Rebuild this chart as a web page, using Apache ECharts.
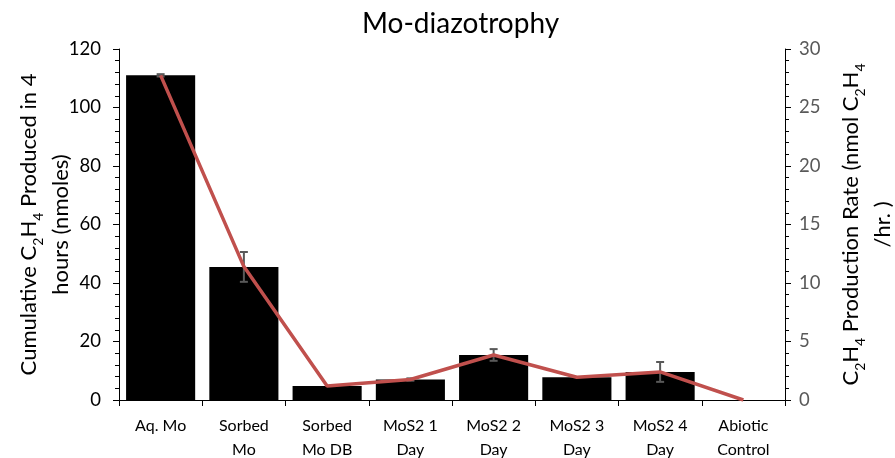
<!DOCTYPE html>
<html>
<head>
<meta charset="utf-8">
<script src="https://cdn.jsdelivr.net/npm/echarts@6/dist/echarts.min.js"></script>
<style>
  html, body { margin: 0; padding: 0; background: #fff; }
  #chart { width: 895px; height: 458px; }
</style>
</head>
<body>
<div id="chart"></div>
<script>
// Categories and measured values
const categories = ['Aq. Mo', 'Sorbed\nMo', 'Sorbed\nMo DB', 'MoS2 1\nDay', 'MoS2 2\nDay', 'MoS2 3\nDay', 'MoS2 4\nDay', 'Abiotic\nControl'];
const cumulativeNmoles = [111, 45.5, 4.8, 7.0, 15.4, 7.8, 9.6, 0];
const cumulativeError = [0.4, 5.1, 0, 0.4, 2.0, 0, 3.4, 0];
const productionRate = [27.75, 11.4, 1.2, 1.75, 3.85, 1.95, 2.4, 0];
const leftTicks = { min: 0, max: 120, interval: 20 };
const rightTicks = { min: 0, max: 30, interval: 5 };

const FONT = 'Lato, "Open Sans", sans-serif';

const errorData = cumulativeNmoles.map((v, i) => [i, v - cumulativeError[i], v + cumulativeError[i], cumulativeError[i]]);

const subRich = {
  m: { fontSize: 22, fontFamily: FONT, color: '#000', lineHeight: 32 },
  s: { fontSize: 14, fontFamily: FONT, color: '#000', lineHeight: 17, verticalAlign: 'bottom' }
};

const chart = echarts.init(document.getElementById('chart'), null, { renderer: 'canvas' });

chart.setOption({
  animation: false,
  backgroundColor: '#fff',
  title: {
    text: 'Mo-diazotrophy',
    left: 357,
    top: 5,
    textStyle: { fontFamily: FONT, fontSize: 28, fontWeight: 'normal', color: '#000' }
  },
  grid: { left: 119, right: 110, top: 49, bottom: 58, containLabel: false, outerBoundsMode: 'none' },
  xAxis: {
    type: 'category',
    data: categories,
    axisLine: { lineStyle: { color: '#000', width: 1 } },
    axisTick: { show: true, alignWithLabel: false, length: 6, lineStyle: { color: '#000' } },
    axisLabel: { fontFamily: FONT, fontSize: 16, color: '#000', lineHeight: 24, margin: 14, interval: 0 }
  },
  yAxis: [
    {
      type: 'value',
      min: leftTicks.min, max: leftTicks.max, interval: leftTicks.interval,
      position: 'left',
      axisLine: { show: true, lineStyle: { color: '#000', width: 1 } },
      axisTick: { show: true, length: 6, lineStyle: { color: '#000' } },
      minorTick: { show: true, splitNumber: 5, length: 4, lineStyle: { color: '#000' } },
      splitLine: { show: false },
      axisLabel: { fontFamily: FONT, fontSize: 18.5, color: '#000', margin: 18 },
      name: '{m|Cumulative C}{s|2}{m|H}{s|4}{m| Produced in 4}\n{m|hours (nmoles)}',
      nameLocation: 'middle',
      nameGap: 42,
      nameMoveOverlap: false,
      nameRotate: 90,
      nameTextStyle: { rich: subRich, align: 'center' }
    },
    {
      type: 'value',
      min: rightTicks.min, max: rightTicks.max, interval: rightTicks.interval,
      position: 'right',
      axisLine: { show: true, lineStyle: { color: '#000', width: 1 } },
      axisTick: { show: true, length: 6, lineStyle: { color: '#000' } },
      minorTick: { show: true, splitNumber: 5, length: 4, lineStyle: { color: '#000' } },
      splitLine: { show: false },
      axisLabel: { fontFamily: FONT, fontSize: 18.5, color: '#595959', margin: 14 },
      name: '{m|C}{s|2}{m|H}{s|4}{m| Production Rate (nmol C}{s|2}{m|H}{s|4}\n{m|/hr. )}',
      nameLocation: 'middle',
      nameGap: 50,
      nameMoveOverlap: false,
      nameRotate: 90,
      nameTextStyle: { rich: subRich, align: 'center' }
    }
  ],
  series: [
    {
      name: 'Cumulative',
      type: 'bar',
      data: cumulativeNmoles,
      yAxisIndex: 0,
      barCategoryGap: '17%',
      itemStyle: { color: '#000' },
      z: 2
    },
    {
      name: 'Error',
      type: 'custom',
      yAxisIndex: 0,
      data: errorData,
      z: 3,
      renderItem: function (params, api) {
        if (api.value(3) <= 0) return null;
        const x = api.coord([api.value(0), 0])[0];
        const lo = api.coord([api.value(0), api.value(1)])[1];
        const hi = api.coord([api.value(0), api.value(2)])[1];
        const half = 4;
        const style = { stroke: '#595959', lineWidth: 2 };
        return {
          type: 'group',
          children: [
            { type: 'line', shape: { x1: x, y1: lo, x2: x, y2: hi }, style: style },
            { type: 'line', shape: { x1: x - half, y1: lo, x2: x + half, y2: lo }, style: style },
            { type: 'line', shape: { x1: x - half, y1: hi, x2: x + half, y2: hi }, style: style }
          ]
        };
      }
    },
    {
      name: 'Rate',
      type: 'line',
      data: productionRate,
      yAxisIndex: 1,
      showSymbol: false,
      symbol: 'none',
      lineStyle: { color: '#C0504D', width: 3.5 },
      z: 4
    }
  ]
});
</script>
</body>
</html>
